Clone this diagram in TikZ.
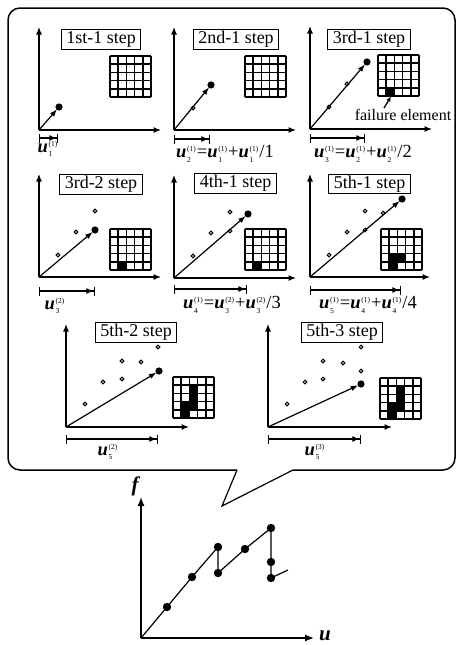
\documentclass[tikz,border=0pt]{standalone}
\usepackage{fontspec}
\setmainfont{Liberation Serif}
\usetikzlibrary{arrows.meta}
\newcommand\sfs{\fontsize{7.5}{7.5}\selectfont}
\newcommand\uu[2]{{\bfseries\itshape u}\kern0.8pt$^{\mbox{\sfs(#1)}}_{\mbox{\sfs #2}}$\kern0.5pt}
\newcommand\meshlines{\foreach \i in {0,...,5}{\draw[meshline] (\i*8.2,0) -- (\i*8.2,41); \draw[meshline] (0,\i*8.2) -- (41,\i*8.2);}}
\newcommand\failcell[2]{\fill ({(#1-1)*8.2},{(#2-1)*8.2}) rectangle ++(8.2,8.2);}
\newcommand\mk[1]{\draw[hollow] (#1) circle[radius=1.8pt];}
\begin{document}
\begin{tikzpicture}[x=1pt,y=-1pt,
  axis/.style={line width=1.2pt,-{Latex[length=7.5pt,width=6pt]}},
  vec/.style={line width=1.2pt,-{Latex[length=7.5pt,width=5.5pt]},shorten >=3pt},
  dimbar/.style={line width=1.2pt,{Bar[width=9pt]}-{Latex[length=7.5pt,width=6pt]Bar[width=9pt]}},
  stepbox/.style={draw,line width=0.9pt,fill=white,inner xsep=5pt,inner ysep=1.5pt,font=\fontsize{18}{18}\selectfont,text height=12.5pt,text depth=4pt},
  meshline/.style={line width=1.6pt},
  hollow/.style={line width=1pt},
  lbl/.style={font=\fontsize{18.5}{18.5}\selectfont,inner sep=0pt},
  bigdot/.style={circle,fill,inner sep=0pt,minimum size=8.4pt}
  ]
\useasboundingbox (0,0) rectangle (457,645);
% callout
\draw[line width=1.5pt,rounded corners=12pt] (237,470) -- (8,470) -- (8,8) -- (455,8) -- (455,470) -- (293,470);
\draw[line width=1.2pt] (237,470) coordinate (cl) -- (222,506) coordinate (ctip) -- (293,470) coordinate (cr);
% step boxes
\node[stepbox] (s1) at (101,39.5) {1st-1 step};
\node[stepbox] (s2) at (236,39.5) {2nd-1 step};
\node[stepbox] (s3) at (369,39.5) {3rd-1 step};
\node[stepbox] (s4) at (101,184.5) {3rd-2 step};
\node[stepbox] (s5) at (235.5,183.5) {4th-1 step};
\node[stepbox] (s6) at (369.5,184) {5th-1 step};
\node[stepbox] (s7) at (136,332.5) {5th-2 step};
\node[stepbox] (s8) at (342,332.5) {5th-3 step};
% meshes
\begin{scope}[shift={(110,56)}] \meshlines \end{scope}
\begin{scope}[shift={(245,56)}] \meshlines \end{scope}
\begin{scope}[shift={(378,55)}] \failcell{2}{5} \meshlines \end{scope}
\begin{scope}[shift={(110,229)}] \failcell{2}{5} \meshlines \end{scope}
\begin{scope}[shift={(245,229)}] \failcell{2}{5} \meshlines \end{scope}
\begin{scope}[shift={(381,229)}] \failcell{2}{5}\failcell{2}{4}\failcell{3}{4} \meshlines \end{scope}
\begin{scope}[shift={(173,377)}] \failcell{2}{5}\failcell{2}{4}\failcell{3}{4}\failcell{3}{3}\failcell{3}{2} \meshlines \end{scope}
\begin{scope}[shift={(380,378)}] \failcell{2}{5}\failcell{2}{4}\failcell{3}{4}\failcell{3}{3}\failcell{3}{2} \meshlines \end{scope}
% failure element
\node[font=\fontsize{16}{16}\selectfont,inner sep=0pt] (fe) at (403,115) {failure element};
\coordinate (fcell) at (391,96.5);
\draw[line width=1.3pt,-{Latex[length=5pt,width=4.5pt]}] (384,108) -- (fcell);
% panel 1
\begin{scope}[shift={(39,130)}]
 \coordinate (o) at (0,0);
 \draw[axis] (o) -- (0,-103); \draw[axis] (o) -- (122,0);
 \fill (20,-23) circle[radius=3.6pt];
 \draw[vec] (o) -- (20,-23);
 \draw[dimbar] (0,8) -- (19,8);
 \node[lbl] at (9,19) {\uu11};
\end{scope}
% panel 2
\begin{scope}[shift={(174,130)}]
 \coordinate (o) at (0,0);
 \draw[axis] (o) -- (0,-103); \draw[axis] (o) -- (122,0);
 \mk{19,-22}
 \fill (37,-45) circle[radius=3.6pt];
 \draw[vec] (o) -- (37,-45);
 \draw[dimbar] (0,9) -- (36,9);
 \node[lbl] at (51,24) {\uu12=\uu11+\uu11/1};
\end{scope}
% panel 3
\begin{scope}[shift={(310,129)}]
 \coordinate (o) at (0,0);
 \draw[axis] (o) -- (0,-103); \draw[axis] (o) -- (122,0);
 \mk{19,-22}\mk{37,-45}
 \fill (57,-67) circle[radius=3.6pt];
 \draw[vec] (o) -- (57,-67);
 \draw[dimbar] (0,9) -- (55,9);
 \node[lbl] at (53,25) {\uu13=\uu12+\uu12/2};
\end{scope}
% panel 4
\begin{scope}[shift={(39,277)}]
 \coordinate (o) at (0,0);
 \draw[axis] (o) -- (0,-103); \draw[axis] (o) -- (122,0);
 \mk{19,-22}\mk{37,-45}\mk{56,-66}
 \fill (56,-47) circle[radius=3.6pt];
 \draw[vec] (o) -- (56,-47);
 \draw[dimbar] (0,14) -- (56,14);
 \node[lbl] at (16,29) {\uu23};
\end{scope}
% panel 5
\begin{scope}[shift={(174,278)}]
 \coordinate (o) at (0,0);
 \draw[axis] (o) -- (0,-103); \draw[axis] (o) -- (122,0);
 \mk{19,-22}\mk{37,-45}\mk{56,-66}\mk{56,-47}
 \fill (74,-64) circle[radius=3.6pt];
 \draw[vec] (o) -- (74,-64);
 \draw[dimbar] (0,11) -- (73,11);
 \node[lbl] at (58,27) {\uu14=\uu23 +\uu23/3};
\end{scope}
% panel 6
\begin{scope}[shift={(310,277)}]
 \coordinate (o) at (0,0);
 \draw[axis] (o) -- (0,-103); \draw[axis] (o) -- (120,0);
 \mk{19,-22}\mk{37,-45}\mk{55,-66}\mk{55,-47}\mk{73,-64}
 \fill (92,-78) circle[radius=3.6pt];
 \draw[vec] (o) -- (92,-78);
 \draw[dimbar] (0,13) -- (91,13);
 \node[lbl] at (58,28) {\uu15=\uu14 +\uu14 /4};
\end{scope}
% panel 7
\begin{scope}[shift={(66,427)}]
 \coordinate (o) at (0,0);
 \draw[axis] (o) -- (0,-103); \draw[axis] (o) -- (123,0);
 \mk{19,-23}\mk{37,-45}\mk{56,-48}\mk{56,-66}\mk{75,-65}\mk{92,-80}
 \fill (93,-56) circle[radius=3.6pt];
 \draw[vec] (o) -- (93,-56);
 \draw[dimbar] (0,12) -- (92,12);
 \node[lbl] at (42,25) {\uu25};
\end{scope}
% panel 8
\begin{scope}[shift={(268,427)}]
 \coordinate (o) at (0,0);
 \draw[axis] (o) -- (0,-103); \draw[axis] (o) -- (124,0);
 \mk{19,-23}\mk{37,-45}\mk{55,-48}\mk{55,-66}\mk{75,-64}\mk{93,-80}\mk{93,-56}
 \fill (93,-43) circle[radius=3.6pt];
 \draw[vec] (o) -- (93,-43);
 \draw[dimbar] (0,12) -- (93,12);
 \node[lbl] at (47,25) {\uu35};
\end{scope}
% bottom f-u graph
\coordinate (go) at (141,638);
\draw[line width=1.3pt,-{Latex[length=9pt,width=7pt]}] (go) -- (141,497) coordinate (gy);
\draw[line width=1.3pt,-{Latex[length=9pt,width=7pt]}] (go) -- (314,638) coordinate (gx);
\node[font=\fontsize{21}{21}\selectfont\bfseries\itshape,inner sep=0pt] (fl) at (135,486) {f};
\node[font=\fontsize{21}{21}\selectfont\bfseries\itshape,inner sep=0pt] (ul) at (325,636) {u};
\node[bigdot] (g1) at (167,607) {};
\node[bigdot] (g2) at (192,577) {};
\node[bigdot] (g3) at (218,547) {};
\node[bigdot] (g4) at (218,573) {};
\node[bigdot] (g5) at (245,549) {};
\node[bigdot] (g6) at (271,528) {};
\node[bigdot] (g7) at (271,562) {};
\node[bigdot] (g8) at (271,578) {};
\coordinate (g9) at (288,570);
\draw[line width=1.2pt] (go) -- (g1.center) -- (g2.center) -- (g3.center) -- (g4.center) -- (g5.center) -- (g6.center) -- (g7.center) -- (g8.center) -- (g9);
\end{tikzpicture}
\end{document}
